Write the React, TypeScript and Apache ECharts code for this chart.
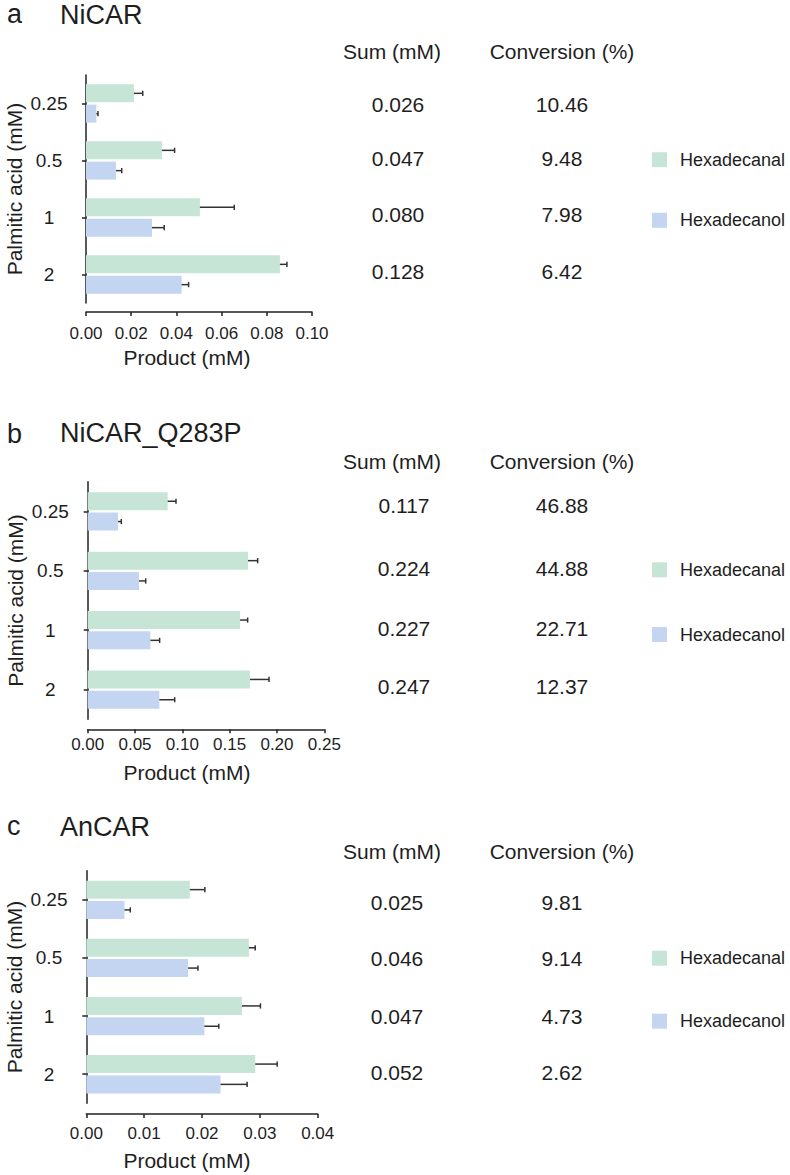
import React, { useEffect, useRef } from "react";
import * as echarts from "echarts";

// ---------- data ----------
const categories = ["0.25", "0.5", "1", "2"];
const seriesNames = ["Hexadecanal", "Hexadecanol"];

// Panel a: NiCAR
const aHexadecanal = [0.0212, 0.0336, 0.0504, 0.0858];
const aHexadecanalErr = [0.0039, 0.0056, 0.0152, 0.0031];
const aHexadecanol = [0.0046, 0.0133, 0.0292, 0.0423];
const aHexadecanolErr = [0.0007, 0.0025, 0.0054, 0.0031];
const aSum = ["0.026", "0.047", "0.080", "0.128"];
const aConversion = ["10.46", "9.48", "7.98", "6.42"];
const aTicks = [0, 0.02, 0.04, 0.06, 0.08, 0.1];

// Panel b: NiCAR_Q283P
const bHexadecanal = [0.0845, 0.1694, 0.161, 0.1715];
const bHexadecanalErr = [0.0088, 0.0102, 0.008, 0.0201];
const bHexadecanol = [0.032, 0.0542, 0.0662, 0.0757];
const bHexadecanolErr = [0.0035, 0.0071, 0.0098, 0.0162];
const bSum = ["0.117", "0.224", "0.227", "0.247"];
const bConversion = ["46.88", "44.88", "22.71", "12.37"];
const bTicks = [0, 0.05, 0.1, 0.15, 0.2, 0.25];

// Panel c: AnCAR
const cHexadecanal = [0.0179, 0.0281, 0.0269, 0.0292];
const cHexadecanalErr = [0.0026, 0.0011, 0.0032, 0.0038];
const cHexadecanol = [0.0066, 0.0176, 0.0204, 0.0232];
const cHexadecanolErr = [0.001, 0.0017, 0.0025, 0.0046];
const cSum = ["0.025", "0.046", "0.047", "0.052"];
const cConversion = ["9.81", "9.14", "4.73", "2.62"];
const cTicks = [0, 0.01, 0.02, 0.03, 0.04];

// ---------- style / layout ----------
const FONT = "'Liberation Sans', Arial, Helvetica, sans-serif";
const GREEN = "#c6e5d7";
const BLUE = "#c3d5f1";
const INK = "#1e1e1e";
const AXIS = "#222";
const BAR_W = 18;
const BAR_GAP = 2.3;
const LETTER_SIZE = 27;

const panels = [
  {
    letter: "a", title: "NiCAR", letterY: 14, titleY: 14.5,
    green: aHexadecanal, greenErr: aHexadecanalErr, blue: aHexadecanol, blueErr: aHexadecanolErr,
    sum: aSum, conv: aConversion, ticks: aTicks,
    grid: { left: 86, top: 75, width: 226, height: 228 },
    yOffset: 10, xOffset: 9, labelMargin: 12.5, nameGap: 34.5, namePad: 24,
    headerY: 51.7, rowY: [104, 158.3, 214, 271.7], sumX: 398,
    legendTop: 150.7, legendGap: 42.6,
  },
  {
    letter: "b", title: "NiCAR_Q283P", letterY: 434, titleY: 433,
    green: bHexadecanal, greenErr: bHexadecanalErr, blue: bHexadecanol, blueErr: bHexadecanolErr,
    sum: bSum, conv: bConversion, ticks: bTicks,
    grid: { left: 87.7, top: 481.7, width: 236.6, height: 237.6 },
    yOffset: 10.4, xOffset: 10, labelMargin: 7, nameGap: 33, namePad: 38,
    headerY: 461.7, rowY: [505.7, 568.3, 628.3, 686.7], sumX: 404,
    legendTop: 560.8, legendGap: 46.7,
  },
  {
    letter: "c", title: "AnCAR", letterY: 825.5, titleY: 826.7,
    green: cHexadecanal, greenErr: cHexadecanalErr, blue: cHexadecanol, blueErr: cHexadecanolErr,
    sum: cSum, conv: cConversion, ticks: cTicks,
    grid: { left: 86.3, top: 870.7, width: 231.4, height: 232.6 },
    yOffset: 10.3, xOffset: 10.7, labelMargin: 11, nameGap: 35.5, namePad: 30,
    headerY: 851.7, rowY: [902.7, 958.3, 1016, 1072.3], sumX: 397,
    legendTop: 949.2, legendGap: 45,
  },
];

function errorSeries(idx: number, values: number[], errs: number[], offset: number, name: string) {
  return {
    type: "custom",
    name,
    xAxisIndex: idx,
    yAxisIndex: idx,
    z: 5,
    encode: { x: 0, y: 1 },
    data: values.map((v, i) => [v, i, errs[i]]),
    renderItem: (_params: any, api: any) => {
      const v = api.value(0);
      const c = api.value(1);
      const e = api.value(2);
      const p0 = api.coord([v, c]);
      const p1 = api.coord([v + e, c]);
      const y = p0[1] + offset;
      const st = { stroke: "#333", lineWidth: 1.5 };
      return {
        type: "group",
        children: [
          { type: "line", shape: { x1: p0[0], y1: y, x2: p1[0], y2: y }, style: st },
          { type: "line", shape: { x1: p1[0], y1: y - 2.6, x2: p1[0], y2: y + 2.6 }, style: st },
        ],
      };
    },
  };
}

function txt(text: string, x: number, y: number, size: number, align = "center", lineHeight?: number) {
  const style: any = { text, fontSize: size, fontFamily: FONT, fill: INK, align, verticalAlign: "middle" };
  if (lineHeight) style.lineHeight = lineHeight;
  return { type: "text", x, y, silent: true, style };
}

function buildOption() {
  const grid: any[] = [];
  const xAxis: any[] = [];
  const yAxis: any[] = [];
  const series: any[] = [];
  const legend: any[] = [];
  const graphic: any[] = [];
  const off = (BAR_W + BAR_GAP) / 2;

  panels.forEach((p, i) => {
    grid.push({ ...p.grid, containLabel: false });
    const tickMax = p.ticks[p.ticks.length - 1];
    const interval = p.ticks[1] - p.ticks[0];
    xAxis.push({
      type: "value",
      gridIndex: i,
      min: p.ticks[0],
      max: tickMax,
      interval,
      offset: p.xOffset,
      splitLine: { show: false },
      axisLine: { show: true, lineStyle: { color: AXIS, width: 1.5 } },
      axisTick: { show: true, length: 4, lineStyle: { color: AXIS, width: 1.5 } },
      axisLabel: {
        fontSize: 17, fontFamily: FONT, color: INK, margin: p.labelMargin,
        formatter: (v: number) => v.toFixed(2),
      },
      name: "Product (mM)",
      nameLocation: "middle",
      nameGap: p.nameGap,
      nameTextStyle: { fontSize: 21, fontFamily: FONT, color: INK, padding: [0, p.namePad, 0, 0] },
    });
    yAxis.push({
      type: "category",
      gridIndex: i,
      data: categories,
      inverse: true,
      offset: p.yOffset,
      axisLine: { show: true, lineStyle: { color: AXIS, width: 1.5 } },
      axisTick: { show: true, alignWithLabel: true, length: 4, lineStyle: { color: AXIS, width: 1.5 } },
      axisLabel: { fontSize: 19, fontFamily: FONT, color: INK, align: "center", margin: 27 },
      splitLine: { show: false },
      name: "Palmitic acid (mM)",
      nameLocation: "middle",
      nameGap: 51,
      nameTextStyle: { fontSize: 21, fontFamily: FONT, color: INK },
    });
    series.push({
      type: "bar", name: seriesNames[0], xAxisIndex: i, yAxisIndex: i,
      data: p.green, barWidth: BAR_W, barGap: (BAR_GAP / BAR_W) * 100 + "%",
      itemStyle: { color: GREEN },
    });
    series.push({
      type: "bar", name: seriesNames[1], xAxisIndex: i, yAxisIndex: i,
      data: p.blue, barWidth: BAR_W, barGap: (BAR_GAP / BAR_W) * 100 + "%",
      itemStyle: { color: BLUE },
    });
    series.push(errorSeries(i, p.green, p.greenErr, -off, "err-green-" + i));
    series.push(errorSeries(i, p.blue, p.blueErr, off, "err-blue-" + i));

    legend.push({
      data: seriesNames,
      orient: "vertical",
      left: 652,
      top: p.legendTop,
      padding: 0,
      itemWidth: 15,
      itemHeight: 15,
      itemGap: p.legendGap,
      icon: "rect",
      selectedMode: false,
      textStyle: { fontSize: 18, fontFamily: FONT, color: INK, padding: [0, 0, 0, 8], lineHeight: 15 },
    });

    graphic.push(txt(p.letter, 7, p.letterY, LETTER_SIZE, "left", 22));
    graphic.push(txt(p.title, 60, p.titleY, 27, "left", 22));
    graphic.push(txt("Sum (mM)", 392, p.headerY, 21));
    graphic.push(txt("Conversion (%)", 562, p.headerY, 21));
    p.rowY.forEach((y, r) => {
      graphic.push(txt(p.sum[r], p.sumX, y, 21));
      graphic.push(txt(p.conv[r], 562, y, 21));
    });
  });

  return { animation: false, backgroundColor: "#fff", grid, xAxis, yAxis, series, legend, graphic };
}

export default function App() {
  const ref = useRef<HTMLDivElement>(null);
  useEffect(() => {
    if (!ref.current) return;
    const chart = echarts.init(ref.current, undefined, { renderer: "svg" });
    chart.setOption(buildOption() as any);
    return () => chart.dispose();
  }, []);
  return (
    <div
      ref={ref}
      style={{ position: "absolute", left: 0, top: 0, width: 790, height: 1175 }}
    />
  );
}
